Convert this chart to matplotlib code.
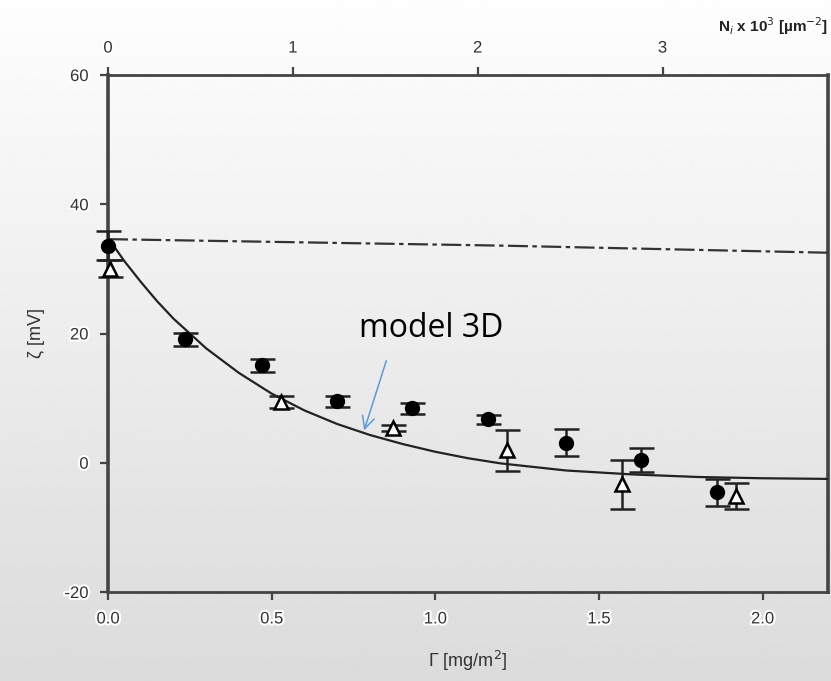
import numpy as np
import matplotlib.pyplot as plt
import matplotlib.patheffects as pe

# surface coverage Gamma [mg/m2] and zeta potential [mV]
circ_g = [0.0, 0.235, 0.47, 0.70, 0.93, 1.16, 1.40, 1.63, 1.86]
circ_z = [33.6, 19.1, 15.1, 9.5, 8.4, 6.7, 3.1, 0.4, -4.6]
circ_e = [2.3, 1.0, 1.0, 0.8, 0.8, 0.7, 2.1, 1.9, 2.1]

tri_g = [0.005, 0.53, 0.87, 1.22, 1.57, 1.92]
tri_z = [30.0, 9.4, 5.4, 1.9, -3.3, -5.1]
tri_e = [1.3, 1.0, 0.5, 3.2, 3.8, 2.0]

# model 3D curve
model_g = [0.0, 0.05, 0.1, 0.15, 0.2, 0.3, 0.4, 0.5, 0.6, 0.7, 0.8, 0.9, 1.0,
           1.1, 1.2, 1.4, 1.6, 1.8, 2.0, 2.2]
model_z = [34.8, 31.2, 28.0, 25.0, 22.3, 17.7, 13.9, 10.7, 8.1, 6.0, 4.3, 2.9, 1.7,
           0.7, -0.1, -1.2, -1.8, -2.2, -2.4, -2.5]

# dash-dot line
flat_g = [0.0, 1.2, 2.2]
flat_z = [34.6, 33.6, 32.5]

x_ticks = [0.0, 0.5, 1.0, 1.5, 2.0]
y_ticks = [-20, 0, 20, 40, 60]
top_ticks = [0, 1, 2, 3]
n_per_gamma = 1.7705

fig = plt.figure(figsize=(8.31, 6.81), dpi=100)

# grey gradient background
bg = fig.add_axes([0, 0, 1, 1], zorder=-10)
grad = np.linspace(0.995, 0.86, 256).reshape(-1, 1)
bg.imshow(grad, aspect='auto', cmap='gray', vmin=0, vmax=1, extent=[0, 1, 0, 1])
bg.axis('off')

ax = fig.add_axes([108/831, 1-592/681, 720/831, 517/681])
ax.set_facecolor('none')

halo = [pe.withStroke(linewidth=3, foreground='white')]
tc = '#333333'

ax.plot(model_g, model_z, color='#222222', lw=1.6, zorder=3)
ax.plot(flat_g, flat_z, color='#333333', lw=1.6, dashes=(9, 2, 2, 2), zorder=3)

ax.errorbar(circ_g, circ_z, yerr=circ_e, fmt='o', color='black', ms=10,
            ecolor='#222222', elinewidth=1.8, capsize=9, capthick=1.8,
            zorder=5, clip_on=False)
ax.errorbar(tri_g, tri_z, yerr=tri_e, fmt='^', mfc='white', mec='black', mew=1.8,
            ms=9.5, ecolor='#222222', elinewidth=1.8, capsize=9, capthick=1.8,
            zorder=4, clip_on=False)

ax.set_xlim(0, 2.2)
ax.set_ylim(-20, 60)
ax.set_xticks(x_ticks)
ax.set_xticklabels([f'{v:.1f}' for v in x_ticks])
ax.set_yticks(y_ticks)
ax.set_yticklabels([str(v) for v in y_ticks])

for s in ax.spines.values():
    s.set_color('#444444')
    s.set_linewidth(2)
ax.spines['left'].set_linewidth(2.6)
ax.spines['right'].set_linewidth(2.6)

ax.tick_params(direction='out', length=6, width=1.6, color='#444444',
               labelsize=12, labelcolor=tc, pad=8)
for lab in ax.get_xticklabels() + ax.get_yticklabels():
    lab.set_family('Liberation Sans')
    lab.set_path_effects(halo)

ax.set_xlabel('Γ [mg/m$^2$]', fontsize=13, color=tc, family='Liberation Sans',
              labelpad=16)
ax.set_ylabel('ζ [mV]', fontsize=13, color=tc, family='Liberation Sans',
              labelpad=14)

top = ax.twiny()
top.set_xlim(0, 2.2*n_per_gamma)
top.set_xticks(top_ticks)
top.tick_params(direction='out', length=6, width=1.6, color='#444444',
                labelsize=12, labelcolor=tc, pad=8)
for lab in top.get_xticklabels():
    lab.set_family('Liberation Sans')
    lab.set_path_effects(halo)
for s in top.spines.values():
    s.set_visible(False)

fig.text(0.997, 0.978, 'N$_i$ x 10$^3$ [µm$^{-2}$]', ha='right', va='top',
         fontsize=11, fontweight='bold', color='#222222',
         family=['Liberation Sans Narrow', 'Liberation Sans'])

ax.annotate('', xy=(0.78, 4.6), xytext=(0.853, 16.2),
            arrowprops=dict(arrowstyle='->', color='#5b9bd5', lw=1.1,
                            mutation_scale=22))
ax.text(0.767, 19.5, 'model 3D', fontsize=23, family='Open Sans', color='black')

fig.savefig('out.png', dpi=100)
